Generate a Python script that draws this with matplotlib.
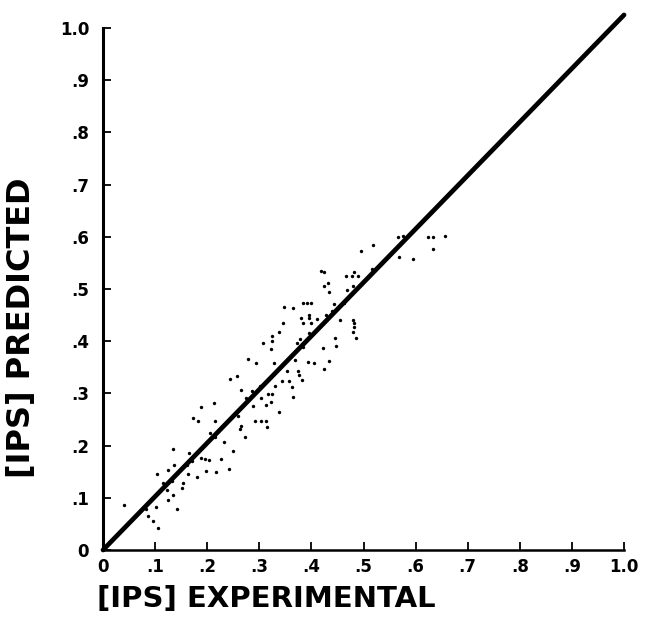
import numpy as np
import matplotlib
matplotlib.use("Agg")
import matplotlib.pyplot as plt

# experimental vs predicted [IPS]
ips_exp = [
    .134, .166, .136, .104, .124, .162, .163, .180, .115, .133, .154, .152,
    .123, .134, .125, .142, .040, .102, .082, .087, .095, .106, .171,
    .294, .328, .257, .244, .265, .285, .302, .331, .317, .324, .303, .274,
    .322, .312, .288, .213, .189, .338, .173, .182, .214, .260, .291, .304,
    .313, .314, .265, .263, .205, .214, .273, .232, .249, .188, .196, .204,
    .227, .242, .198, .217, .279,
    .434, .347, .364, .383, .391, .399, .462, .443, .380, .396, .396, .383,
    .399, .410, .455, .345, .338, .324, .324, .308, .378, .372, .445, .447,
    .422, .323, .369, .394, .404, .434, .424, .353, .375, .376, .344, .357,
    .381, .362, .365, .395, .384,
    .495, .568, .595, .418, .424, .466, .477, .482, .489, .516, .431, .424,
    .480, .469, .439, .428, .480, .482, .482, .480, .485,
    .567, .575, .624, .634, .656, .634, .519,
]
ips_pred = [
    .193, .185, .163, .145, .154, .163, .146, .139, .129, .133, .128, .118,
    .114, .105, .096, .078, .086, .082, .079, .065, .055, .043, .171,
    .358, .358, .334, .328, .307, .305, .314, .315, .298, .298, .291, .292,
    .284, .278, .275, .281, .273, .264, .252, .247, .247, .257, .248, .247,
    .247, .236, .238, .231, .225, .217, .216, .207, .190, .176, .174, .172,
    .174, .156, .151, .150, .366,
    .494, .465, .463, .473, .473, .473, .474, .471, .444, .450, .444, .434,
    .434, .442, .441, .435, .417, .409, .401, .396, .404, .397, .407, .391,
    .386, .385, .364, .361, .359, .362, .346, .343, .343, .335, .324, .324,
    .325, .313, .294, .415, .389,
    .573, .562, .557, .535, .532, .525, .524, .533, .524, .538, .511, .506,
    .506, .499, .458, .450, .441, .434, .428, .418, .406,
    .600, .602, .600, .600, .602, .576, .584,
]

# hand drawn line of agreement
line_x = [0.0, 1.0]
line_y = [0.0, 1.025]

ticks = [0, .1, .2, .3, .4, .5, .6, .7, .8, .9, 1.0]
tick_labels = ['0', '.1', '.2', '.3', '.4', '.5', '.6', '.7', '.8', '.9', '1.0']

fig = plt.figure(figsize=(6.45, 6.19), dpi=100)
ax = fig.add_axes([0.1597, 0.1115, 0.8078, 0.8686])

ax.scatter(ips_exp, ips_pred, s=6, color='black', linewidths=0, zorder=3)
ax.plot(line_x, line_y, color='black', lw=3.4, solid_capstyle='round',
        clip_on=False, zorder=4)

ax.set_xlim(0, 1.0)
ax.set_ylim(0, 1.03)
ax.spines['top'].set_visible(False)
ax.spines['right'].set_visible(False)
ax.spines['left'].set_bounds(0, 1.0)
ax.spines['bottom'].set_bounds(0, 1.0)
ax.spines['left'].set_linewidth(2.2)
ax.spines['bottom'].set_linewidth(1.8)

ax.set_xticks(ticks)
ax.set_xticklabels(tick_labels)
ax.set_yticks(ticks)
ax.set_yticklabels(tick_labels)
ax.tick_params(direction='in', length=6, width=1.3, labelsize=12, pad=6)
ax.tick_params(axis='y', pad=10)
for lab in ax.get_xticklabels() + ax.get_yticklabels():
    lab.set_fontweight('bold')

fig.text(0.150, 0.032, '[IPS] EXPERIMENTAL', fontsize=21, fontweight='bold',
         ha='left', va='center')
fig.text(0.034, 0.47, '[IPS] PREDICTED', fontsize=23, fontweight='bold',
         ha='center', va='center', rotation=90)

fig.savefig('out.png', dpi=100)
